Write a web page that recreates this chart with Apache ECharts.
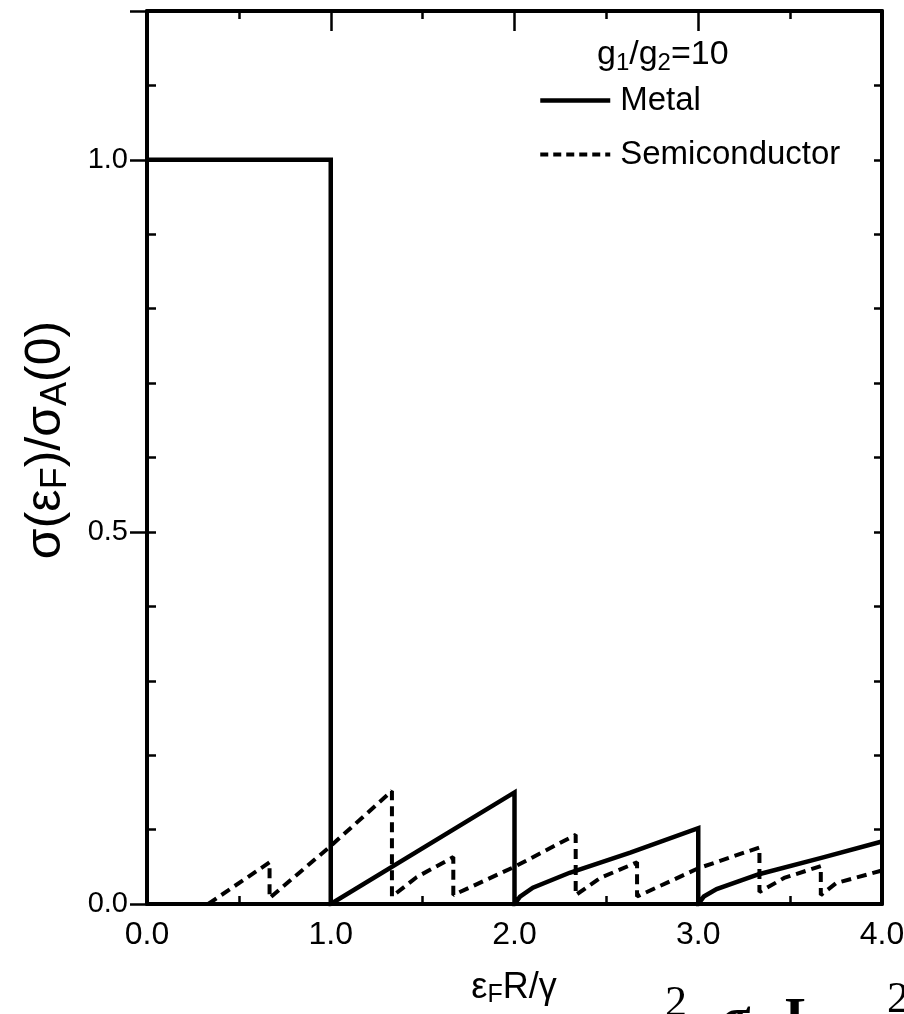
<!DOCTYPE html>
<html>
<head>
<meta charset="utf-8">
<script src="https://cdn.jsdelivr.net/npm/echarts@6/dist/echarts.min.js"></script>
<style>
    html, body { margin: 0; padding: 0; background: #fff; }
    #chart { width: 904px; height: 1014px; }
</style>
</head>
<body>
<div id="chart"></div>
<script>
    // x ticks / y labels
    var xTicks = [0, 1, 2, 3, 4];
    var yLabels = [0, 0.5, 1.0];
    var yMax = 1.2;

    // metal (solid)
    var metalX = [0, 1, 1, 2, 2, 2.03, 2.1, 2.3, 2.63, 3, 3, 3.03, 3.1, 3.33, 3.67, 4];
    var metalY = [1, 1, 0, 0.15, 0, 0.01, 0.022, 0.042, 0.069, 0.102, 0, 0.01, 0.02, 0.04, 0.062, 0.084];

    // semiconductor (dashed)
    var semiX = [0.333, 0.667, 0.667, 1, 1.333, 1.333, 1.467, 1.667, 1.667, 2, 2.333, 2.333, 2.467, 2.667, 2.667, 3, 3.333, 3.333, 3.467, 3.667, 3.667, 3.75, 4];
    var semiY = [0, 0.056, 0.008, 0.078, 0.152, 0.01, 0.036, 0.063, 0.012, 0.05, 0.093, 0.012, 0.035, 0.056, 0.01, 0.048, 0.076, 0.016, 0.035, 0.051, 0.012, 0.028, 0.045];

    function pairs(xs, ys) {
        return xs.map(function (x, i) { return [x, ys[i]]; });
    }

    var font = 'Liberation Sans';
    var black = '#000';

    function xAxisBase(pos, majorLen) {
        return {
            type: 'value',
            position: pos,
            min: xTicks[0],
            max: xTicks[xTicks.length - 1],
            interval: 1,
            axisLine: { show: true, onZero: false, lineStyle: { color: black, width: 4 } },
            axisTick: { show: true, inside: true, length: majorLen, lineStyle: { color: black, width: 2.5 } },
            minorTick: { show: true, splitNumber: 2, length: 8, lineStyle: { color: black, width: 2.5 } },
            splitLine: { show: false },
            minorSplitLine: { show: false },
            axisLabel: { show: false }
        };
    }

    var xBottom = xAxisBase('bottom', 14);
    xBottom.axisLabel = {
        show: true, margin: 15, color: black, fontSize: 32, fontFamily: font,
        formatter: function (v) { return v.toFixed(1); }
    };
    var xTop = xAxisBase('top', 20);

    var yLeft = {
        type: 'value', position: 'left', min: 0, max: yMax, interval: 0.1,
        axisLine: { show: true, onZero: false, lineStyle: { color: black, width: 4 } },
        axisTick: { show: true, inside: true, length: 9, lineStyle: { color: black, width: 2.5 } },
        splitLine: { show: false },
        axisLabel: {
            show: true, margin: 19, color: black, fontSize: 29, fontFamily: font,
            formatter: function (v) {
                for (var i = 0; i < yLabels.length; i++) {
                    if (Math.abs(v - yLabels[i]) < 1e-6) return yLabels[i].toFixed(1);
                }
                return '';
            }
        }
    };
    var yRightMinor = {
        type: 'value', position: 'right', offset: 0, min: 0, max: yMax, interval: 0.1,
        axisLine: { show: true, onZero: false, lineStyle: { color: black, width: 4 } },
        axisTick: { show: true, inside: true, length: 8, lineStyle: { color: black, width: 2.5 } },
        splitLine: { show: false },
        axisLabel: { show: false }
    };
    var yRightMajor = {
        type: 'value', position: 'right', offset: 0, min: 0, max: yMax, interval: 0.5,
        axisLine: { show: false },
        axisTick: { show: true, inside: true, length: 17, lineStyle: { color: black, width: 2.5 } },
        splitLine: { show: false },
        axisLabel: { show: false }
    };

    var myChart = echarts.init(document.getElementById('chart'));
    var option = {
        animation: false,
        backgroundColor: '#fff',
        grid: { left: 147, right: 22, top: 11, bottom: 110, containLabel: false, outerBoundsMode: 'none' },
        xAxis: [xBottom, xTop],
        yAxis: [yLeft, yRightMinor, yRightMajor],
        legend: {
            orient: 'vertical',
            left: 538,
            top: 84,
            padding: 0,
            itemWidth: 70,
            itemHeight: 14,
            itemGap: 21,
            itemStyle: { opacity: 0 },
            textStyle: { fontSize: 33, color: black, fontFamily: font, padding: [0, 0, 0, 5] },
            data: [
                { name: 'Metal', lineStyle: { width: 4.5, color: black, type: 'solid' } },
                { name: 'Semiconductor', lineStyle: { width: 4, color: black, type: [8, 5] } }
            ]
        },
        graphic: [
            {
                type: 'text', left: 597, top: 38,
                style: {
                    text: 'g{s|1}/g{s|2}=10',
                    fill: black, fontSize: 34, fontFamily: font,
                    rich: { s: { fontSize: 24, fontFamily: font, fill: black, padding: [17, 0, 0, 0] } }
                }
            },
            {
                type: 'text', x: 46, y: 440, rotation: Math.PI / 2,
                style: {
                    text: 'σ(ε{s|F})/σ{s|A}(0)',
                    fill: black, fontSize: 50, fontFamily: font,
                    align: 'center', verticalAlign: 'middle',
                    rich: { s: { fontSize: 36, fontFamily: font, fill: black, padding: [20, 0, 0, 0] } }
                }
            },
            {
                type: 'text', x: 514, y: 988,
                style: {
                    text: 'ε{s|F}R/γ',
                    fill: black, fontSize: 36, fontFamily: font,
                    align: 'center', verticalAlign: 'middle',
                    rich: { s: { fontSize: 25, fontFamily: font, fill: black, padding: [15, 0, 0, 0] } }
                }
            },
            {
                type: 'text', left: 665, top: 982,
                style: { text: '2', fill: black, fontSize: 44, fontFamily: 'Liberation Serif' }
            },
            {
                type: 'text', left: 721, top: 994,
                style: { text: 'σ', fill: black, fontSize: 54, fontWeight: 'bold', fontFamily: 'Liberation Serif' }
            },
            {
                type: 'text', left: 785, top: 994,
                style: { text: 'L', fill: black, fontSize: 54, fontWeight: 'bold', fontFamily: 'Liberation Serif' }
            },
            {
                type: 'text', left: 887, top: 978,
                style: { text: '2', fill: black, fontSize: 44, fontFamily: 'Liberation Serif' }
            }
        ],
        series: [
            {
                name: 'Metal',
                type: 'line',
                xAxisIndex: 0,
                yAxisIndex: 0,
                symbol: 'none',
                lineStyle: { color: black, width: 4.5, cap: 'butt', join: 'miter' },
                itemStyle: { color: black },
                data: pairs(metalX, metalY)
            },
            {
                name: 'Semiconductor',
                type: 'line',
                xAxisIndex: 0,
                yAxisIndex: 0,
                symbol: 'none',
                lineStyle: { color: black, width: 4, type: [10, 6] },
                itemStyle: { color: black },
                data: pairs(semiX, semiY)
            }
        ]
    };
    myChart.setOption(option);
</script>
</body>
</html>
